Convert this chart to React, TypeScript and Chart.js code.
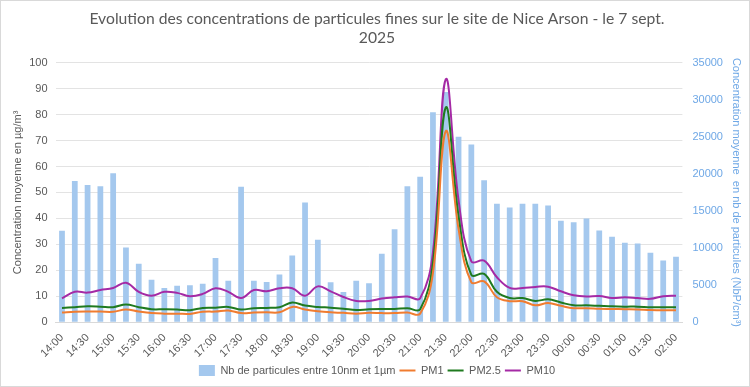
import React, { useEffect, useRef } from "react";
import { Chart, registerables } from "chart.js";

Chart.register(...registerables);

const times: string[] = [
  "14:00","14:15","14:30","14:45","15:00","15:15","15:30","15:45",
  "16:00","16:15","16:30","16:45","17:00","17:15","17:30","17:45",
  "18:00","18:15","18:30","18:45","19:00","19:15","19:30","19:45",
  "20:00","20:15","20:30","20:45","21:00","21:15","21:30","21:45",
  "22:00","22:15","22:30","22:45","23:00","23:15","23:30","23:45",
  "00:00","00:15","00:30","00:45","01:00","01:15","01:30","01:45","02:00",
];

const nbParticules: number[] = [
  12320, 19040, 18500, 18330, 20080, 10080, 7890, 5740,
  4620, 4930, 4970, 5200, 8650, 5600, 18280, 5600,
  5420, 6450, 9010, 16130, 11120, 5380, 4080, 5600,
  5240, 9230, 12550, 18330, 19630, 28320, 31050, 25000,
  23970, 19130, 15990, 15460, 15990, 15990, 15730, 13670,
  13490, 13980, 12370, 11510, 10710, 10620, 9360, 8330, 8830,
];

const pm1: number[] = [
  3.7, 4.0, 4.1, 4.1, 4.0, 4.9, 4.1, 3.5,
  3.3, 3.3, 3.2, 4.0, 4.1, 4.5, 3.5, 3.7,
  3.8, 3.8, 5.9, 4.9, 4.2, 3.8, 3.6, 3.3,
  3.6, 3.5, 3.5, 3.7, 3.3, 19, 73.6, 36,
  15.4, 15.7, 9.6, 8.1, 8.1, 6.5, 7.4, 6.3,
  5.4, 5.4, 5.2, 5.1, 5.0, 4.9, 4.7, 4.6, 4.6,
];

const pm25: number[] = [
  5.5, 5.8, 6.1, 6.0, 5.8, 6.8, 5.8, 5.0,
  5.0, 4.9, 4.6, 5.5, 5.6, 5.9, 4.9, 5.4,
  5.5, 5.8, 7.6, 6.4, 5.9, 5.6, 5.2, 4.7,
  5.0, 5.1, 5.1, 5.4, 5.0, 23, 82.7, 41,
  18.2, 18.6, 11.7, 9.3, 9.3, 8.2, 8.8, 7.6,
  6.5, 6.5, 6.3, 6.1, 6.0, 6.0, 5.8, 5.8, 5.8,
];

const pm10: number[] = [
  9.2, 11.7, 11.4, 12.4, 13.2, 15.2, 11.7, 10.2,
  11.7, 11.3, 10.0, 10.9, 13.1, 11.7, 9.3, 12.4,
  11.9, 13.1, 13.1, 10.2, 13.8, 11.9, 9.7, 8.2,
  8.2, 9.1, 9.6, 9.9, 9.2, 27, 93.6, 47,
  23.4, 23.7, 17.3, 13.2, 13.2, 13.6, 13.7, 11.9,
  10.4, 9.9, 10.1, 9.3, 9.6, 9.3, 9.0, 10.0, 10.2,
];

const titleLines: string[] = [
  "Evolution des concentrations de particules fines sur le site de Nice Arson - le 7 sept.",
  "2025",
];

const BAR_COLOR = "#a4c8ee";
const PM1_COLOR = "#f07c30";
const PM25_COLOR = "#1f7a1f";
const PM10_COLOR = "#a52aa5";
const GREY = "#595959";
const RIGHT_COLOR = "#6fa8e6";
const FONT = "'Liberation Sans', Arial, sans-serif";

export default function App() {
  const canvasRef = useRef<HTMLCanvasElement | null>(null);

  useEffect(() => {
    document.body.style.margin = "0";
    const canvas = canvasRef.current;
    if (!canvas) return;
    const chart = new Chart(canvas, {
      type: "bar",
      data: {
        labels: times,
        datasets: [
          {
            type: "line",
            label: "PM1",
            data: pm1,
            borderColor: PM1_COLOR,
            backgroundColor: PM1_COLOR,
            borderWidth: 2,
            pointRadius: 0,
            tension: 0.4,
            yAxisID: "y",
            order: 0,
          },
          {
            type: "line",
            label: "PM2.5",
            data: pm25,
            borderColor: PM25_COLOR,
            backgroundColor: PM25_COLOR,
            borderWidth: 2,
            pointRadius: 0,
            tension: 0.4,
            yAxisID: "y",
            order: 0,
          },
          {
            type: "line",
            label: "PM10",
            data: pm10,
            borderColor: PM10_COLOR,
            backgroundColor: PM10_COLOR,
            borderWidth: 2,
            pointRadius: 0,
            tension: 0.4,
            yAxisID: "y",
            order: 0,
          },
          {
            type: "bar",
            label: "Nb de particules entre 10nm et 1µm",
            data: nbParticules,
            backgroundColor: BAR_COLOR,
            borderWidth: 0,
            categoryPercentage: 1,
            barPercentage: 0.45,
            yAxisID: "y1",
            order: 1,
          },
        ],
      },
      options: {
        animation: false,
        responsive: false,
        maintainAspectRatio: false,
        layout: { padding: { left: 10, right: 6, top: 3, bottom: 0 } },
        plugins: {
          title: {
            display: true,
            text: titleLines,
            color: GREY,
            font: { family: "Lato, " + FONT, size: 15.7, weight: "normal" },
            padding: { top: 6, bottom: 15 },
            lineHeight: 1.28,
          },
          legend: {
            position: "bottom",
            labels: {
              color: GREY,
              font: { family: FONT, size: 11 },
              usePointStyle: true,
              pointStyleWidth: 16,
              padding: 4,
              generateLabels: () => [
                { text: "Nb de particules entre 10nm et 1µm", fillStyle: BAR_COLOR, strokeStyle: BAR_COLOR, lineWidth: 0, pointStyle: "rect", datasetIndex: 3, fontColor: GREY },
                { text: "PM1", fillStyle: PM1_COLOR, strokeStyle: PM1_COLOR, lineWidth: 2, pointStyle: "line", datasetIndex: 0, fontColor: GREY },
                { text: "PM2.5", fillStyle: PM25_COLOR, strokeStyle: PM25_COLOR, lineWidth: 2, pointStyle: "line", datasetIndex: 1, fontColor: GREY },
                { text: "PM10", fillStyle: PM10_COLOR, strokeStyle: PM10_COLOR, lineWidth: 2, pointStyle: "line", datasetIndex: 2, fontColor: GREY },
              ] as any,
            },
          },
          tooltip: { enabled: false },
        },
        scales: {
          x: {
            grid: { display: false },
            border: { display: true, color: "#d9d9d9" },
            ticks: {
              autoSkip: false,
              maxRotation: 45,
              minRotation: 45,
              padding: 1,
              color: GREY,
              font: { family: FONT, size: 11 },
              callback: (_v: any, i: number) => (i % 2 === 0 ? times[i] : ""),
            },
          },
          y: {
            position: "left",
            min: 0,
            max: 100,
            afterFit: (s: any) => {
              s.width = 44.6;
            },
            ticks: { stepSize: 10, color: GREY, font: { family: FONT, size: 11 }, padding: 8 },
            grid: { color: "#e3e3e3", drawTicks: false },
            border: { display: false },
            title: {
              display: true,
              text: "Concentration moyenne en µg/m³",
              color: GREY,
              font: { family: FONT, size: 11 },
              padding: { top: 0, bottom: 4 },
            },
          },
          y1: {
            position: "right",
            min: 0,
            max: 35000,
            afterFit: (s: any) => {
              s.width = 60.6;
            },
            ticks: {
              stepSize: 5000,
              color: RIGHT_COLOR,
              font: { family: FONT, size: 11 },
              padding: 10,
              callback: (v: any) => String(v),
            },
            grid: { drawOnChartArea: false, drawTicks: false },
            border: { display: false },
            title: {
              display: true,
              text: "Concentration moyenne  en nb de particules (NbP/cm³)",
              color: RIGHT_COLOR,
              font: { family: FONT, size: 11 },
              padding: { top: 0, bottom: 8 },
            },
          },
        },
      },
    });
    return () => chart.destroy();
  }, []);

  return (
    <div
      style={{
        width: 750,
        height: 387,
        boxSizing: "border-box",
        border: "1px solid #d9d9d9",
        background: "#fff",
      }}
    >
      <canvas ref={canvasRef} width={748} height={385} style={{ display: "block" }} />
    </div>
  );
}
